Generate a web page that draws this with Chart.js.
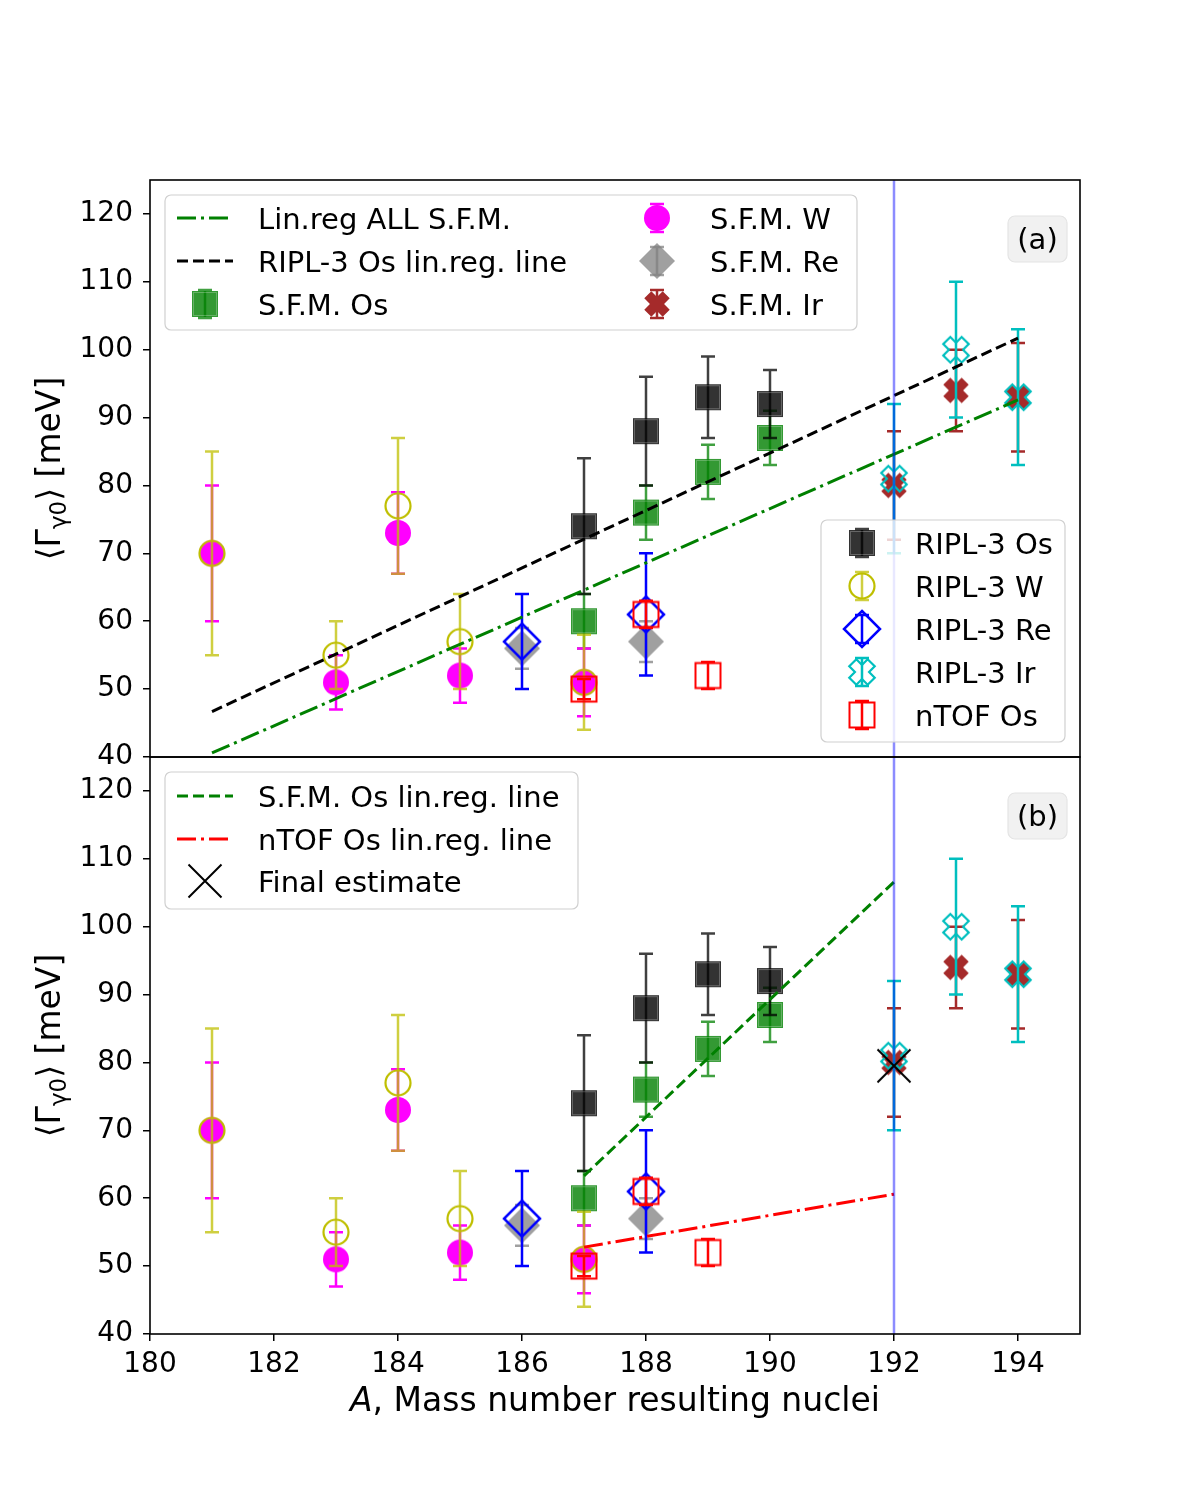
<!DOCTYPE html>
<html>
<head>
<meta charset="utf-8">
<script src="https://cdn.jsdelivr.net/npm/chart.js@4.4.1/dist/chart.umd.min.js"></script>
<style>
  html, body { margin: 0; padding: 0; background: #fff; }
  #wrap { width: 1200px; height: 1500px; }
</style>
</head>
<body>
<div id="wrap"><canvas id="gammaChart" width="1200" height="1500"></canvas></div>
<script>
// ---- data ----
const xTickValues = [180, 182, 184, 186, 188, 190, 192, 194];
const yTickValues = [40, 50, 60, 70, 80, 90, 100, 110, 120];

const massSfmOs = [187, 188, 189, 190];
const gammaSfmOs = [60, 76, 82, 87];
const errSfmOs = [4, 4, 4, 4];

const massSfmW = [181, 183, 184, 185, 187];
const gammaSfmW = [70, 51, 73, 52, 51];
const errSfmW = [10, 4, 6, 4, 5];

const massSfmRe = [186, 188];
const gammaSfmRe = [56, 57];
const errSfmRe = [3, 3];

const massSfmIr = [192, 193, 194];
const gammaSfmIr = [80, 94, 93];
const errSfmIr = [8, 6, 8];

const massRiplOs = [187, 188, 189, 190];
const gammaRiplOs = [74, 88, 93, 92];
const errRiplOs = [10, 8, 6, 5];

const massRiplW = [181, 183, 184, 185, 187];
const gammaRiplW = [70, 55, 77, 57, 51];
const errRiplW = [15, 5, 10, 7, 7];

const massRiplRe = [186, 188];
const gammaRiplRe = [57, 61];
const errRiplRe = [7, 9];

const massRiplIr = [192, 193, 194];
const gammaRiplIr = [81, 100, 93];
const errRiplIr = [11, 10, 10];

const massNtofOs = [187, 188, 189];
const gammaNtofOs = [50, 61, 52];
const errNtofOs = [1.5, 2, 2];

// regression lines (end points)
const massLinAll = [181, 194];
const gammaLinAll = [40.6, 92.6];
const massLinRiplOs = [181, 194];
const gammaLinRiplOs = [46.7, 101.7];
const massLinSfmOs = [187, 192];
const gammaLinSfmOs = [63.3, 106.6];
const massLinNtofOs = [187, 192];
const gammaLinNtofOs = [52.8, 60.6];

const finalMass = [192];
const finalGamma = [79.5];
const vlineMass = [192, 192];
const vlineGamma = [40, 125];

const FONT = "'DejaVu Sans', 'Liberation Sans', sans-serif";

// ---- marker images ----
function markerCanvas(size, paint) {
    const c = document.createElement('canvas');
    c.width = size;
    c.height = size;
    const g = c.getContext('2d');
    g.translate(size / 2, size / 2);
    paint(g);
    return c;
}

function xPath(g, L, w) {
    const p = [[w, L], [w, w], [L, w], [L, -w], [w, -w], [w, -L], [-w, -L], [-w, -w], [-L, -w], [-L, w], [-w, w], [-w, L]];
    g.save();
    g.rotate(Math.PI / 4);
    g.beginPath();
    p.forEach((q, i) => i ? g.lineTo(q[0], q[1]) : g.moveTo(q[0], q[1]));
    g.closePath();
    g.restore();
}

function diamondPath(g, r) {
    g.beginPath();
    g.moveTo(0, -r); g.lineTo(r, 0); g.lineTo(0, r); g.lineTo(-r, 0);
    g.closePath();
}

const mk = {
    sqGreen: markerCanvas(30, g => {
        g.fillStyle = 'rgba(0,128,0,0.8)';
        g.fillRect(-13, -13, 26, 26);
        g.strokeStyle = 'rgba(255,255,255,0.25)';
        g.lineWidth = 1;
        g.strokeRect(-11.5, -11.5, 23, 23);
    }),
    sqBlack: markerCanvas(30, g => {
        g.fillStyle = 'rgba(0,0,0,0.8)';
        g.fillRect(-13, -13, 26, 26);
        g.strokeStyle = 'rgba(255,255,255,0.25)';
        g.lineWidth = 1;
        g.strokeRect(-11.5, -11.5, 23, 23);
    }),
    circMagenta: markerCanvas(30, g => {
        g.fillStyle = '#ff00ff';
        g.beginPath(); g.arc(0, 0, 13, 0, Math.PI * 2); g.fill();
    }),
    circYellow: markerCanvas(30, g => {
        g.strokeStyle = '#bfbf00';
        g.lineWidth = 2.2;
        g.beginPath(); g.arc(0, 0, 12.5, 0, Math.PI * 2); g.stroke();
    }),
    diaGray: markerCanvas(42, g => {
        diamondPath(g, 18);
        g.fillStyle = 'rgba(128,128,128,0.75)';
        g.fill();
    }),
    diaBlue: markerCanvas(42, g => {
        diamondPath(g, 18);
        g.strokeStyle = '#0000ff';
        g.lineWidth = 2.5;
        g.stroke();
    }),
    xBrown: markerCanvas(34, g => {
        xPath(g, 13, 5);
        g.fillStyle = '#a52a2a';
        g.fill();
    }),
    xCyan: markerCanvas(34, g => {
        xPath(g, 13, 5);
        g.strokeStyle = '#00bfbf';
        g.lineWidth = 2.2;
        g.stroke();
    }),
    sqRed: markerCanvas(30, g => {
        g.strokeStyle = '#ff0000';
        g.lineWidth = 2;
        g.strokeRect(-12.5, -12.5, 25, 25);
    }),
    xThin: markerCanvas(38, g => {
        g.strokeStyle = '#000';
        g.lineWidth = 2;
        g.beginPath();
        g.moveTo(-16.5, -16.5); g.lineTo(16.5, 16.5);
        g.moveTo(-16.5, 16.5); g.lineTo(16.5, -16.5);
        g.stroke();
    })
};

// ---- series description ----
const series = {
    sfmOs: { label: 'S.F.M. Os', xs: massSfmOs, ys: gammaSfmOs, errs: errSfmOs, marker: mk.sqGreen, errColor: 'rgba(0,128,0,0.75)' },
    sfmW: { label: 'S.F.M. W', xs: massSfmW, ys: gammaSfmW, errs: errSfmW, marker: mk.circMagenta, errColor: '#ff00ff' },
    sfmRe: { label: 'S.F.M. Re', xs: massSfmRe, ys: gammaSfmRe, errs: errSfmRe, marker: mk.diaGray, errColor: 'rgba(128,128,128,0.75)' },
    sfmIr: { label: 'S.F.M. Ir', xs: massSfmIr, ys: gammaSfmIr, errs: errSfmIr, marker: mk.xBrown, errColor: '#a52a2a' },
    riplOs: { label: 'RIPL-3 Os', xs: massRiplOs, ys: gammaRiplOs, errs: errRiplOs, marker: mk.sqBlack, errColor: 'rgba(0,0,0,0.75)' },
    riplW: { label: 'RIPL-3 W', xs: massRiplW, ys: gammaRiplW, errs: errRiplW, marker: mk.circYellow, errColor: 'rgba(191,191,0,0.75)' },
    riplRe: { label: 'RIPL-3 Re', xs: massRiplRe, ys: gammaRiplRe, errs: errRiplRe, marker: mk.diaBlue, errColor: '#0000ff' },
    riplIr: { label: 'RIPL-3 Ir', xs: massRiplIr, ys: gammaRiplIr, errs: errRiplIr, marker: mk.xCyan, errColor: '#00bfbf' },
    ntofOs: { label: 'nTOF Os', xs: massNtofOs, ys: gammaNtofOs, errs: errNtofOs, marker: mk.sqRed, errColor: '#ff0000' }
};

const lines = {
    linAll: { label: 'Lin.reg ALL S.F.M.', xs: massLinAll, ys: gammaLinAll, color: '#008000', dash: [19, 5, 3, 5] },
    linRiplOs: { label: 'RIPL-3 Os lin.reg. line', xs: massLinRiplOs, ys: gammaLinRiplOs, color: '#000000', dash: [11, 5] },
    linSfmOs: { label: 'S.F.M. Os lin.reg. line', xs: massLinSfmOs, ys: gammaLinSfmOs, color: '#008000', dash: [11, 5] },
    linNtofOs: { label: 'nTOF Os lin.reg. line', xs: massLinNtofOs, ys: gammaLinNtofOs, color: '#ff0000', dash: [19, 5, 3, 5] }
};

const pts = (xs, ys) => xs.map((x, i) => ({ x: x, y: ys[i] }));

const pointOrder = ['sfmOs', 'sfmW', 'sfmRe', 'sfmIr', 'riplOs', 'riplW', 'riplRe', 'riplIr', 'ntofOs'];

let drawIdx = 0;
function pointSet(panel, key) {
    const s = series[key];
    return {
        label: s.label, data: pts(s.xs, s.ys), yAxisID: panel, showLine: false,
        pointStyle: s.marker, pointRadius: 5, pointHoverRadius: 5,
        errs: s.errs, errColor: s.errColor, order: 1000 - (drawIdx++)
    };
}
function lineSet(panel, l) {
    return {
        label: l.label, data: pts(l.xs, l.ys), yAxisID: panel, showLine: true,
        borderColor: l.color, borderWidth: 3, borderDash: l.dash, pointRadius: 0,
        fill: false, order: 1000 - (drawIdx++)
    };
}
function vlineSet(panel) {
    return {
        label: 'A = 192', data: pts(vlineMass, vlineGamma), yAxisID: panel, showLine: true,
        borderColor: 'rgba(0,0,255,0.45)', borderWidth: 2.5, pointRadius: 0,
        fill: false, order: 1000 - (drawIdx++)
    };
}

const datasets = [];
['ya', 'yb'].forEach(panel => {
    pointOrder.forEach(k => datasets.push(pointSet(panel, k)));
});
datasets.push(lineSet('ya', lines.linAll));
datasets.push(lineSet('ya', lines.linRiplOs));
datasets.push(lineSet('yb', lines.linSfmOs));
datasets.push(lineSet('yb', lines.linNtofOs));
datasets.push(vlineSet('ya'));
datasets.push(vlineSet('yb'));
datasets.push({
    label: 'Final estimate', data: pts(finalMass, finalGamma), yAxisID: 'yb', showLine: false,
    pointStyle: mk.xThin, pointRadius: 5, order: 1000 - (drawIdx++)
});

// ---- plugins ----
const errorBars = {
    id: 'errorBars',
    beforeDatasetDraw(chart, args) {
        const ds = chart.data.datasets[args.index];
        if (!ds.errs) return;
        const ctx = chart.ctx;
        const xs = chart.scales.x;
        const ys = chart.scales[ds.yAxisID];
        ctx.save();
        ctx.strokeStyle = ds.errColor;
        ctx.lineWidth = 2.5;
        ds.data.forEach((p, i) => {
            const px = xs.getPixelForValue(p.x);
            const top = ys.getPixelForValue(p.y + ds.errs[i]);
            const bot = ys.getPixelForValue(p.y - ds.errs[i]);
            ctx.beginPath();
            ctx.moveTo(px, top); ctx.lineTo(px, bot);
            ctx.moveTo(px - 7, top); ctx.lineTo(px + 7, top);
            ctx.moveTo(px - 7, bot); ctx.lineTo(px + 7, bot);
            ctx.stroke();
        });
        ctx.restore();
    }
};

function roundBox(ctx, x, y, w, h, r, fill, stroke) {
    ctx.beginPath();
    ctx.moveTo(x + r, y);
    ctx.arcTo(x + w, y, x + w, y + h, r);
    ctx.arcTo(x + w, y + h, x, y + h, r);
    ctx.arcTo(x, y + h, x, y, r);
    ctx.arcTo(x, y, x + w, y, r);
    ctx.closePath();
    ctx.fillStyle = fill;
    ctx.fill();
    ctx.strokeStyle = stroke;
    ctx.lineWidth = 1.2;
    ctx.stroke();
}

function drawHandle(ctx, e, cx, cy) {
    ctx.save();
    if (e.line) {
        ctx.setLineDash(e.line.dash);
        ctx.strokeStyle = e.line.color;
        ctx.lineWidth = 3;
        ctx.beginPath();
        ctx.moveTo(cx - 28, cy); ctx.lineTo(cx + 28, cy);
        ctx.stroke();
    } else if (e.series) {
        const s = e.series;
        ctx.strokeStyle = s.errColor;
        ctx.lineWidth = 2.5;
        ctx.beginPath();
        ctx.moveTo(cx, cy - 14); ctx.lineTo(cx, cy + 14);
        ctx.moveTo(cx - 7, cy - 14); ctx.lineTo(cx + 7, cy - 14);
        ctx.moveTo(cx - 7, cy + 14); ctx.lineTo(cx + 7, cy + 14);
        ctx.stroke();
        ctx.drawImage(s.marker, cx - s.marker.width / 2, cy - s.marker.height / 2);
    } else if (e.marker) {
        ctx.drawImage(e.marker, cx - e.marker.width / 2, cy - e.marker.height / 2);
    }
    ctx.restore();
}

function drawLegend(ctx, box, cols, rowY) {
    roundBox(ctx, box.x, box.y, box.w, box.h, 6, 'rgba(255,255,255,0.8)', '#d0d0d0');
    ctx.font = '29px ' + FONT;
    ctx.fillStyle = '#000';
    ctx.textBaseline = 'middle';
    ctx.textAlign = 'left';
    cols.forEach(col => {
        col.items.forEach((e, r) => {
            const cy = box.y + rowY[r];
            drawHandle(ctx, e, box.x + col.hx, cy);
            ctx.fillText(e.label, box.x + col.tx, cy + 3);
        });
    });
}

function panelTag(ctx, text, right, top) {
    roundBox(ctx, right - 59, top, 59, 46, 7, 'rgba(240,240,240,0.9)', '#e4e4e4');
    ctx.font = '29px ' + FONT;
    ctx.fillStyle = '#000';
    ctx.textAlign = 'center';
    ctx.textBaseline = 'middle';
    ctx.fillText(text, right - 29.5, top + 25);
}

function yTitle(ctx, cx, cy) {
    const big = '33px ' + FONT, small = '23px ' + FONT;
    const a = '\u27E8\u0393', b = '\u03B30', c = '\u27E9 [meV]';
    ctx.save();
    ctx.translate(cx, cy);
    ctx.rotate(-Math.PI / 2);
    ctx.fillStyle = '#000';
    ctx.textBaseline = 'alphabetic';
    ctx.textAlign = 'left';
    ctx.font = big; const wa = ctx.measureText(a).width; const wc = ctx.measureText(c).width;
    ctx.font = small; const wb = ctx.measureText(b).width;
    let x = -(wa + wb + wc) / 2;
    const base = 12;
    ctx.font = big; ctx.fillText(a, x, base); x += wa;
    ctx.font = small; ctx.fillText(b, x, base + 6); x += wb;
    ctx.font = big; ctx.fillText(c, x, base);
    ctx.restore();
}

const decorations = {
    id: 'decorations',
    afterDraw(chart) {
        const ctx = chart.ctx;
        const area = chart.chartArea;
        const ya = chart.scales.ya, yb = chart.scales.yb;
        ctx.save();
        // frames
        ctx.strokeStyle = '#000';
        ctx.lineWidth = 1.6;
        [ya, yb].forEach(s => ctx.strokeRect(area.left, s.top, area.right - area.left, s.bottom - s.top));

        // legends, panel (a)
        drawLegend(ctx, { x: area.left + 15, y: ya.top + 15, w: 692, h: 135 }, [
            { hx: 40, tx: 93, items: [{ line: lines.linAll, label: lines.linAll.label }, { line: lines.linRiplOs, label: lines.linRiplOs.label }, { series: series.sfmOs, label: series.sfmOs.label }] },
            { hx: 492, tx: 545, items: [{ series: series.sfmW, label: series.sfmW.label }, { series: series.sfmRe, label: series.sfmRe.label }, { series: series.sfmIr, label: series.sfmIr.label }] }
        ], [23, 66, 109]);
        drawLegend(ctx, { x: area.right - 259, y: ya.bottom - 237, w: 244, h: 222 }, [
            { hx: 41, tx: 94, items: ['riplOs', 'riplW', 'riplRe', 'riplIr', 'ntofOs'].map(k => ({ series: series[k], label: series[k].label })) }
        ], [23, 66, 109, 152, 195]);
        // legend, panel (b)
        drawLegend(ctx, { x: area.left + 15, y: yb.top + 15, w: 413, h: 137 }, [
            { hx: 40, tx: 93, items: [{ line: lines.linSfmOs, label: lines.linSfmOs.label }, { line: lines.linNtofOs, label: lines.linNtofOs.label }, { marker: mk.xThin, label: 'Final estimate' }] }
        ], [24, 67, 109]);

        panelTag(ctx, '(a)', area.right - 13, ya.top + 36);
        panelTag(ctx, '(b)', area.right - 13, yb.top + 36);

        // axis titles
        yTitle(ctx, 48, (ya.top + ya.bottom) / 2);
        yTitle(ctx, 48, (yb.top + yb.bottom) / 2);

        ctx.fillStyle = '#000';
        ctx.textBaseline = 'alphabetic';
        ctx.textAlign = 'left';
        const it = 'A', rest = ', Mass number resulting nuclei';
        ctx.font = 'italic 33px ' + FONT; const wi = ctx.measureText(it).width;
        ctx.font = '33px ' + FONT; const wr = ctx.measureText(rest).width;
        let x = (area.left + area.right) / 2 - (wi + wr) / 2;
        ctx.font = 'italic 33px ' + FONT; ctx.fillText(it, x, 1411);
        ctx.font = '33px ' + FONT; ctx.fillText(rest, x + wi, 1411);
        ctx.restore();
    }
};

// ---- chart ----
function yScale(weight) {
    return {
        type: 'linear', position: 'left', stack: 'panels', stackWeight: 1, weight: weight,
        min: 40, max: 125,
        afterBuildTicks: s => { s.ticks = yTickValues.map(v => ({ value: v })); },
        afterFit: s => { s.width = 150; },
        ticks: { font: { family: FONT, size: 28 }, color: '#000', padding: 10, callback: v => String(v) },
        grid: { drawOnChartArea: false, drawTicks: true, tickLength: 7, color: '#000', lineWidth: 1.5 },
        border: { display: false }
    };
}

new Chart(document.getElementById('gammaChart').getContext('2d'), {
    type: 'scatter',
    data: { datasets: datasets },
    options: {
        responsive: false,
        animation: false,
        events: [],
        layout: { padding: { top: 180, right: 120, left: 0, bottom: 0 } },
        plugins: { legend: { display: false }, tooltip: { enabled: false } },
        scales: {
            x: {
                type: 'linear', position: 'bottom', min: 180, max: 195,
                afterBuildTicks: s => { s.ticks = xTickValues.map(v => ({ value: v })); },
                afterFit: s => { s.height = 166; },
                ticks: { font: { family: FONT, size: 28 }, color: '#000', padding: 7, maxRotation: 0, autoSkip: false, callback: v => String(v) },
                grid: { drawOnChartArea: false, drawTicks: true, tickLength: 7, color: '#000', lineWidth: 1.5 },
                border: { display: false }
            },
            ya: yScale(2),
            yb: yScale(1)
        }
    },
    plugins: [errorBars, decorations]
});
</script>
</body>
</html>
